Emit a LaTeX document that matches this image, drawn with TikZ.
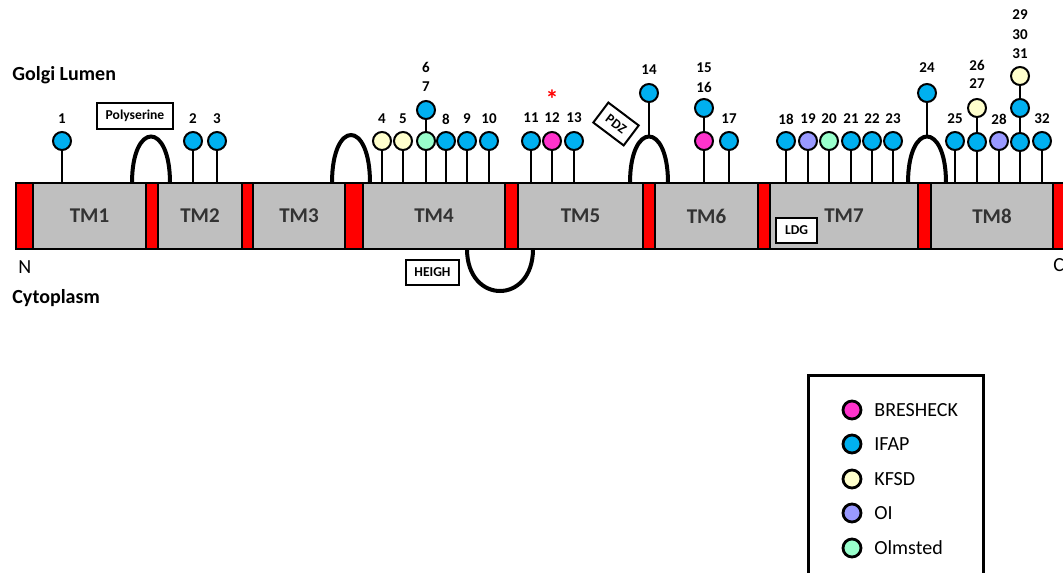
\documentclass[tikz,border=0pt]{standalone}
\usepackage{fontspec}
\setmainfont{Carlito}
\definecolor{cIFAP}{RGB}{0,176,240}
\definecolor{cBRES}{RGB}{255,51,204}
\definecolor{cKFSD}{RGB}{255,255,204}
\definecolor{cOI}{RGB}{153,153,255}
\definecolor{cOLM}{RGB}{153,255,204}
\definecolor{cTM}{RGB}{191,191,191}
\begin{document}
\begin{tikzpicture}[x=0.5pt, y=-0.5pt,
        dot/.style={circle, draw, line width=1pt, minimum size=9pt, inner sep=0pt},
        ifap/.style={dot, fill=cIFAP},
        bresheck/.style={dot, fill=cBRES},
        kfsd/.style={dot, fill=cKFSD},
        oi/.style={dot, fill=cOI},
        olmsted/.style={dot, fill=cOLM},
        stem/.style={line width=1.1pt},
        arch/.style={line width=2pt},
        seg/.style={draw, line width=1pt},
        num/.style={font=\fontsize{7.5}{9}\selectfont\bfseries, inner sep=0pt},
        tag/.style={draw, line width=1pt, fill=white, inner sep=0pt, minimum height=12.5pt,
            font=\fontsize{6.8}{8}\selectfont\bfseries},
        font=\fontsize{10}{12}\selectfont]
        \useasboundingbox (0,0) rectangle (1063,572);
        % Membran zeichnen
        \foreach \a/\b in {16/33, 146/158, 242/253, 345/363, 505/518, 643/655, 758/770, 918/931, 1053/1075}
            \draw[seg, fill=red] (\a,183) rectangle (\b,249);
        \foreach \a/\b/\i in {33/146/1, 158/242/2, 253/345/3, 363/505/4, 518/643/5, 655/758/6, 770/918/7, 931/1053/8} {
            \draw[seg, fill=cTM] (\a,183) rectangle (\b,249);
            \node[font=\fontsize{10.5}{12}\selectfont\bfseries, text=black!80] (tm\i) at ({(\a+\b)/2},216) {TM\i};
        }
        % Schleifen
        \draw[arch] (132,183) .. controls (132,121) and (170,121) .. (170,183);
        \draw[arch] (332,183) .. controls (332,119) and (370,119) .. (370,183);
        \draw[arch] (630,183) .. controls (630,121) and (668,121) .. (668,183);
        \draw[arch] (908,183) .. controls (908,121) and (946,121) .. (946,183);
        \draw[arch] (467,249) .. controls (467,305) and (533,305) .. (533,249);
        % Einzelne Stellen
        \foreach \i/\x/\c in {1/62/ifap, 2/193/ifap, 3/217/ifap, 4/382/kfsd, 5/403/kfsd, 8/446/ifap,
                9/467/ifap, 10/489/ifap, 11/531/ifap, 12/552/bresheck, 13/574/ifap, 17/729/ifap,
                18/786/ifap, 19/808/oi, 20/829/olmsted, 21/851/ifap, 22/872/ifap, 23/893/ifap,
                25/955/ifap, 28/999/oi, 32/1042/ifap} {
            \coordinate (s\i) at (\x,183);
            \node[\c] (p\i) at (\x,141) {};
            \draw[stem] (s\i) -- (p\i);
        }
        % Gestapelte Stellen
        \coordinate (s6) at (426,183);
        \node[olmsted] (p6) at (426,141) {};
        \node[ifap] (p7) at (426,110) {};
        \draw[stem] (s6) -- (p6) (p6) -- (p7);
        \coordinate (s15) at (704,183);
        \node[bresheck] (p15) at (704,141) {};
        \node[ifap] (p16) at (704,108) {};
        \draw[stem] (s15) -- (p15) (p15) -- (p16);
        \coordinate (s26) at (977,183);
        \node[ifap] (p26) at (977,142) {};
        \node[kfsd] (p27) at (977,108) {};
        \draw[stem] (s26) -- (p26) (p26) -- (p27);
        \coordinate (s29) at (1020,183);
        \node[ifap] (p29) at (1020,142) {};
        \node[ifap] (p30) at (1020,108) {};
        \node[kfsd] (p31) at (1020,76) {};
        \draw[stem] (s29) -- (p29) (p29) -- (p30) (p30) -- (p31);
        % Stellen auf den Schleifen
        \coordinate (s14) at (649,136.5);
        \node[ifap] (p14) at (649,93) {};
        \draw[stem] (s14) -- (p14);
        \coordinate (s24) at (927,136.5);
        \node[ifap] (p24) at (927,93) {};
        \draw[stem] (s24) -- (p24);
        % Nummern
        \foreach \t/\x/\y in {1/62/119, 2/193/119, 3/217/119, 4/382/119, 5/403/119, 6/426/67, 7/426/87,
                8/446/119, 9/467/119, 10/489/119, 11/531/118, 12/552/118, 13/574/118, 14/649/70,
                15/704/68, 16/704/87, 17/729/119, 18/786/119, 19/808/119, 20/829/119, 21/851/119,
                22/872/119, 23/893/119, 24/927/68, 25/955/119, 26/977/65, 27/977/84, 28/999/119,
                29/1020/15, 30/1020/35, 31/1020/54, 32/1042/119}
            \node[num] (n\t) at (\x,\y) {\t};
        \node[text=red, font=\fontsize{13}{13}\selectfont\bfseries, inner sep=0pt, anchor=north] (ast) at (552,90) {*};
        % Motive
        \node[tag, minimum width=38pt, minimum height=13pt] (poly) at (135,116) {Polyserine};
        \node[tag, minimum width=26.5pt] (heigh) at (432.5,272.5) {HEIGH};
        \node[tag, minimum width=20.5pt] (ldg) at (796.5,230.5) {LDG};
        \node[tag, minimum width=19pt, minimum height=12.5pt, rotate=-37] (pdz) at (616,124) {PDZ};
        % Beschriftung
        \node[font=\fontsize{10}{12}\selectfont\bfseries, anchor=west, inner sep=0pt] (golgi) at (12,75) {Golgi Lumen};
        \node[font=\fontsize{10}{12}\selectfont\bfseries, anchor=west, inner sep=0pt] (cyto) at (12,298) {Cytoplasm};
        \node[anchor=west, inner sep=0pt] (nterm) at (18,267) {N};
        \node[anchor=west, inner sep=0pt] (cterm) at (1053,265) {C};
        % Legende
        \draw[line width=1.5pt] (808,375) rectangle (983,600);
        \foreach \c/\t/\y in {bresheck/BRESHECK/410, ifap/IFAP/444, kfsd/KFSD/479, oi/OI/513, olmsted/Olmsted/548} {
            \node[\c, line width=1.4pt] (l\t) at (852,\y) {};
            \node[anchor=west, inner sep=0pt] (t\t) at (874,\y) {\t};
        }
\end{tikzpicture}
\end{document}
